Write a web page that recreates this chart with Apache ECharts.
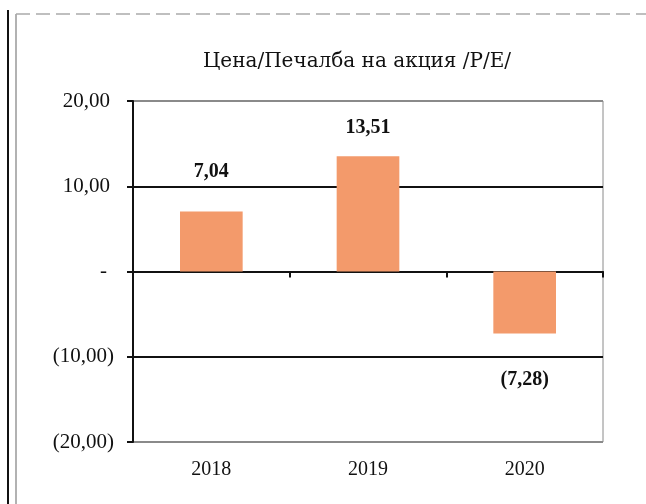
<!DOCTYPE html>
<html>
<head>
<meta charset="utf-8">
<script src="https://cdn.jsdelivr.net/npm/echarts@6/dist/echarts.min.js"></script>
<style>
  html, body { margin: 0; padding: 0; background: #fff; }
  #chart { width: 646px; height: 504px; }
</style>
</head>
<body>
<div id="chart"></div>
<script>
// данни
const years = ['2018', '2019', '2020']
const peValues = [7.04, 13.51, -7.28]
const yTicks = [-20, -10, 0, 10, 20]

const serif = '"Liberation Serif", "DejaVu Serif", serif'

// формат като в Excel: 7,04 / (7,28) / -
function fmt(v) {
  const s = Math.abs(v).toFixed(2).replace('.', ',')
  return v < 0 ? '(' + s + ')' : s
}

const chart = echarts.init(document.getElementById('chart'))

// разстояние на етикетите от стълбовете
const labelDist = [30, 18, 36]

const option = {
  animation: false,
  title: {
    text: 'Цена/Печалба на акция /P/E/',
    left: 352,
    top: 47,
    textAlign: 'center',
    textStyle: { fontFamily: '"DejaVu Serif", serif', fontSize: 20, fontWeight: 'normal', color: '#111' }
  },
  grid: {
    left: 133, right: 43, top: 101, bottom: 62,
    show: true,
    borderColor: '#8a8a8a',
    borderWidth: 1
  },
  xAxis: [{
    type: 'category',
    data: years,
    position: 'bottom',
    axisLine: { show: false, onZero: false },
    axisTick: { show: false },
    axisLabel: { margin: 18, fontFamily: serif, fontSize: 20, color: '#111' }
  }, {
    type: 'category',
    data: years,
    position: 'top',
    axisLine: { show: true, onZero: true, lineStyle: { color: '#111', width: 2 } },
    axisTick: { show: true, inside: true, length: 6, lineStyle: { color: '#111', width: 2 } },
    axisLabel: { show: false }
  }],
  yAxis: {
    type: 'value',
    min: yTicks[0],
    max: yTicks[yTicks.length - 1],
    interval: 10,
    axisLine: { show: true, lineStyle: { color: '#111', width: 2 } },
    axisTick: { show: true, length: 6, lineStyle: { color: '#111', width: 2 } },
    splitLine: {
      show: true,
      lineStyle: { color: ['#8a8a8a', '#111', '#111', '#111', '#8a8a8a'], width: 2 }
    },
    axisLabel: {
      margin: 19,
      fontFamily: serif,
      fontSize: 21,
      color: '#111',
      formatter: v => v === 0 ? '{z|-}' : (v > 0 ? '{p|' + fmt(v) + '}' : fmt(v)),
      rich: {
        p: { fontFamily: serif, fontSize: 21, color: '#111', padding: [0, 4, 0, 0] },
        z: { fontFamily: serif, fontSize: 21, color: '#111', padding: [0, 7, 0, 0] }
      }
    }
  },
  series: [{
    type: 'bar',
    xAxisIndex: 0,
    barWidth: '40%',
    itemStyle: { color: '#f39a6b' },
    data: peValues.map((v, i) => ({
      value: v,
      label: { position: v < 0 ? 'bottom' : 'top', distance: labelDist[i] }
    })),
    label: {
      show: true,
      fontFamily: serif,
      fontSize: 20,
      fontWeight: 'bold',
      color: '#111',
      formatter: p => fmt(p.value)
    }
  }],
  // рамка на диаграмата
  graphic: [
    { type: 'line', shape: { x1: 8, y1: 10, x2: 8, y2: 504 }, style: { stroke: '#111', lineWidth: 2 } },
    { type: 'line', shape: { x1: 16, y1: 14, x2: 16, y2: 504 }, style: { stroke: '#999', lineWidth: 1.5 } },
    { type: 'line', shape: { x1: 16, y1: 14, x2: 646, y2: 14 }, style: { stroke: '#aaa', lineWidth: 1.5, lineDash: [14, 6] } }
  ]
}

chart.setOption(option)
</script>
</body>
</html>
